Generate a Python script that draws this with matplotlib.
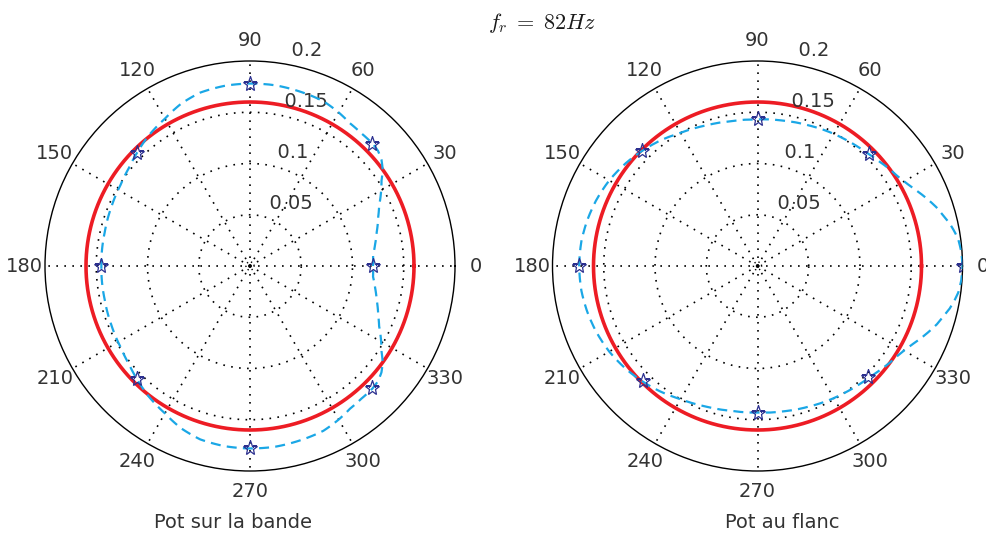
import numpy as np
import matplotlib
matplotlib.use("Agg")
import matplotlib.pyplot as plt

plt.rcParams['font.family'] = ['DejaVu Sans']
plt.rcParams['mathtext.fontset'] = 'cm'

# ---------------- data ----------------
title_text = r'$f_r\;=\;82Hz$'
panel_titles = ['Pot sur la bande', 'Pot au flanc']

star_angles_deg = [0, 45, 90, 135, 180, 225, 270, 315]
left_star_r = [0.120, 0.169, 0.178, 0.156, 0.145, 0.156, 0.178, 0.169]
right_star_r = [0.200, 0.154, 0.143, 0.159, 0.174, 0.158, 0.143, 0.153]

left_curve_deg = [0, 5, 10, 15, 21, 25, 29, 33, 36, 39, 42, 45, 50, 55, 60, 66, 74, 82,
                  90, 98, 106, 113, 120, 128, 135, 141, 148, 157, 167, 180,
                  193, 203, 212, 219, 225, 232, 240, 247, 254, 262, 270, 278, 286, 294,
                  300, 305, 310, 315, 318, 321, 324, 327, 331, 335, 339, 345, 350, 355,
                  360]
left_curve_r = [0.120, 0.1205, 0.124, 0.128, 0.134, 0.139, 0.146, 0.153, 0.160, 0.165,
                0.168, 0.169, 0.169, 0.170, 0.173, 0.176, 0.177, 0.178, 0.178, 0.1775,
                0.176, 0.172, 0.166, 0.161, 0.156, 0.152, 0.149, 0.147, 0.1455, 0.145,
                0.1455, 0.147, 0.149, 0.152, 0.156, 0.161, 0.166, 0.172, 0.176, 0.1775,
                0.178, 0.178, 0.177, 0.176, 0.173, 0.170, 0.169, 0.169, 0.168, 0.165,
                0.160, 0.153, 0.146, 0.139, 0.134, 0.128, 0.124, 0.1205, 0.120]

right_curve_deg = [0, 4, 7.5, 10, 12.5, 15, 18, 21, 24, 27, 30, 33, 36, 40, 45, 50, 56,
                   63, 70, 80, 90, 100, 110, 120, 128, 135, 142, 150, 158, 165, 172, 180,
                   188, 195, 202, 210, 218, 225, 232, 240, 250, 260, 270, 280, 290, 297,
                   304, 310, 315, 320, 324, 327, 330, 333, 336, 339, 342, 345, 347.5,
                   350, 352.5, 356, 360]
right_curve_r = [0.200, 0.1993, 0.1976, 0.195, 0.192, 0.188, 0.184, 0.179, 0.174, 0.169,
                 0.165, 0.162, 0.160, 0.157, 0.154, 0.152, 0.150, 0.148, 0.146, 0.144,
                 0.143, 0.1435, 0.146, 0.150, 0.155, 0.159, 0.163, 0.167, 0.170, 0.172,
                 0.1735, 0.174,
                 0.1735, 0.172, 0.170, 0.167, 0.163, 0.159, 0.155, 0.150, 0.146, 0.1435,
                 0.143, 0.144, 0.146, 0.148, 0.150, 0.152, 0.154, 0.157, 0.160, 0.162,
                 0.165, 0.169, 0.174, 0.179, 0.184, 0.188, 0.192, 0.195, 0.1976, 0.1993,
                 0.200]

ref_radius = [0.16, 0.16]

r_max = 0.2
ring_values = [0.05, 0.1, 0.15]
ring_labels = ['0.05', '0.1', '0.15', '0.2']
spoke_deg = [0, 30, 60, 90, 120, 150, 180, 210, 240, 270, 300, 330]
angle_labels = ['0', '30', '60', '90', '120', '150', '180', '210', '240', '270', '300', '330']

# ---------------- style ----------------
W, H = 987, 538
RED = '#ED1C24'
CYAN = '#1AA7E6'
NAVY = '#2B2F8F'
TXT = '#333333'
FS = 14
dotted = (0, (1, 3.8))

fig = plt.figure(figsize=(W / 100, H / 100), dpi=100)

centers = [(250, 266), (757.5, 266)]
R_PX = 205


def make_panel(cx, cy, star_r, curve_deg, curve_r, ref_r, sub_title, sub_x):
    ax = fig.add_axes([(cx - R_PX) / W, (H - cy - R_PX) / H, 2 * R_PX / W, 2 * R_PX / H],
                      projection='polar')
    ax.set_ylim(0, r_max)
    ax.set_xticks([])
    ax.set_yticks([])
    ax.grid(False)
    ax.spines['polar'].set_linewidth(1.0)
    ax.spines['polar'].set_color('black')

    tt = np.linspace(0, 2 * np.pi, 361)
    for rv in ring_values:
        ax.plot(tt, np.full_like(tt, rv), color='black', lw=1.2, ls=dotted, zorder=1)
    ax.plot(tt, np.full_like(tt, 0.004), color='black', lw=1.0, ls=(0, (1, 2)), zorder=1)
    for a in spoke_deg:
        ax.plot([np.deg2rad(a), np.deg2rad(a)], [0, r_max], color='black', lw=1.2,
                ls=dotted, zorder=1)

    # reference circle
    ax.plot(tt, np.full_like(tt, ref_r), color=RED, lw=2.6, zorder=3)
    # measured curve
    ln, = ax.plot(np.deg2rad(curve_deg), curve_r, color=CYAN, lw=1.6,
                  ls=(0, (4.5, 2.8)), zorder=4)
    ln.get_path()._interpolation_steps = 12
    ax.plot(np.deg2rad(star_angles_deg), star_r, ls='none', marker='*', ms=11,
            mfc='none', mec=NAVY, mew=0.9, zorder=5)

    for a, lab in zip(spoke_deg, angle_labels):
        ax.text(np.deg2rad(a), 1.1 * r_max, lab, ha='center', va='center',
                fontsize=FS, color=TXT, clip_on=False)
    for rv, lab in zip(ring_values + [r_max], ring_labels):
        ax.text(np.deg2rad(82), rv + 0.05 / 20, '  ' + lab, ha='left', va='bottom',
                fontsize=FS, color=TXT, clip_on=False)

    fig.text(sub_x / W, 1 - 528 / H, sub_title, ha='center', va='baseline',
             fontsize=FS, color=TXT)
    return ax


make_panel(*centers[0], left_star_r, left_curve_deg, left_curve_r, ref_radius[0],
           panel_titles[0], 233)
make_panel(*centers[1], right_star_r, right_curve_deg, right_curve_r, ref_radius[1],
           panel_titles[1], 782)

fig.text(542.5 / W, 1 - 29 / H, title_text, ha='center', va='baseline', fontsize=16,
         color='#1a1a1a')

fig.savefig('out.png', dpi=100)
